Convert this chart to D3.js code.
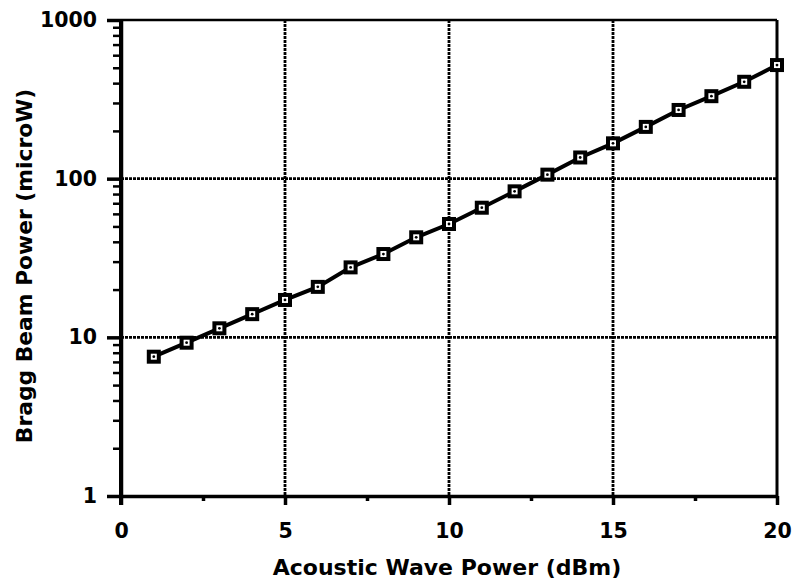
<!DOCTYPE html>
<html><head><meta charset="utf-8">
<script src="https://cdn.jsdelivr.net/npm/d3@7"></script>
<style>
html,body{margin:0;padding:0;background:#fff;}
svg text{font-family:"DejaVu Sans",sans-serif;font-weight:bold;fill:#000;}
</style></head>
<body>
<svg id="c" width="792" height="581"></svg>
<script>
const xValues = [1,2,3,4,5,6,7,8,9,10,11,12,13,14,15,16,17,18,19,20];
const braggPower = [7.55,9.25,11.4,14.0,17.2,20.8,27.6,33.5,42.7,51.8,65.6,83.2,106,136,167,212,271,331,408,520];
const xTicks = [0,5,10,15,20];
const xMinorTicks = [2.5,7.5,12.5,17.5];
const yTicks = [1,10,100,1000];
const xLabel = "Acoustic Wave Power (dBm)";
const yLabel = "Bragg Beam Power (microW)";

const L=121, R=777, T=20, B=496;
const svg = d3.select("#c");
const x = d3.scaleLinear().domain([0,20]).range([L,R]);
const y = d3.scaleLog().domain([1,1000]).range([B,T]);

const yMinor = [];
for (let d=1; d<1000; d*=10) for (let k=2;k<=9;k++) yMinor.push(d*k);

// grid
const g = svg.append("g");
g.selectAll(".gx").data([5,10,15]).join("line")
  .attr("x1",d=>x(d)).attr("x2",d=>x(d)).attr("y1",T).attr("y2",B)
  .attr("stroke","#000").attr("stroke-width",2.8).attr("stroke-dasharray","3,1");
g.selectAll(".gy").data([10,100]).join("line")
  .attr("x1",L).attr("x2",R).attr("y1",d=>y(d)).attr("y2",d=>y(d))
  .attr("stroke","#000").attr("stroke-width",2.8).attr("stroke-dasharray","3,1");

// frame top/right
svg.append("line").attr("x1",L).attr("x2",R).attr("y1",T).attr("y2",T).attr("stroke","#000").attr("stroke-width",2.5);
svg.append("line").attr("x1",R).attr("x2",R).attr("y1",T).attr("y2",B).attr("stroke","#000").attr("stroke-width",3);

function styleAxis(sel, w){
  sel.select(".domain").attr("stroke","#000").attr("stroke-width",w);
  sel.selectAll(".tick line").attr("stroke","#000").attr("stroke-width",w);
  sel.selectAll("text").attr("font-size","20.5px").style("font-family","'DejaVu Sans',sans-serif").style("font-weight","bold");
}
const xa = svg.append("g").attr("transform",`translate(0,${B})`)
  .call(d3.axisBottom(x).tickValues(xTicks).tickSize(9).tickSizeOuter(0).tickPadding(18).tickFormat(d3.format("d")));
styleAxis(xa,3.5);
const xm = svg.append("g").attr("transform",`translate(0,${B})`)
  .call(d3.axisBottom(x).tickValues(xMinorTicks).tickSize(5).tickFormat(""));
xm.select(".domain").remove();
xm.selectAll(".tick line").attr("stroke","#000").attr("stroke-width",3.5);

const ya = svg.append("g").attr("transform",`translate(${L},0)`)
  .call(d3.axisLeft(y).tickValues(yTicks).tickSize(14).tickSizeOuter(0).tickPadding(10).tickFormat(d3.format("d")));
styleAxis(ya,3.5);
const ym = svg.append("g").attr("transform",`translate(${L},0)`)
  .call(d3.axisLeft(y).tickValues(yMinor).tickSize(8).tickFormat(""));
ym.select(".domain").remove();
ym.selectAll(".tick line").attr("stroke","#000").attr("stroke-width",2.5);

svg.append("line").attr("x1",L).attr("x2",L).attr("y1",T-1).attr("y2",B+9).attr("stroke","#000").attr("stroke-width",4);

// data line
const pts = xValues.map((v,i)=>[v,braggPower[i]]);
svg.append("path").datum(pts)
  .attr("d", d3.line().x(d=>x(d[0])).y(d=>y(d[1])))
  .attr("fill","none").attr("stroke","#000").attr("stroke-width",4);
const m = svg.append("g").selectAll("g").data(pts).join("g")
  .attr("transform",d=>`translate(${x(d[0])},${y(d[1])})`);
m.append("rect").attr("x",-5).attr("y",-5).attr("width",10).attr("height",10)
  .attr("fill","#fff").attr("stroke","#000").attr("stroke-width",4);
m.append("circle").attr("r",1.4).attr("fill","#000");

// titles
svg.append("text").attr("x",447).attr("y",575).attr("text-anchor","middle")
  .attr("font-size","22px").text(xLabel);
svg.append("text").attr("transform",`translate(32,266) rotate(-90)`).attr("text-anchor","middle")
  .attr("font-size","21.8px").text(yLabel);
</script>
</body></html>
